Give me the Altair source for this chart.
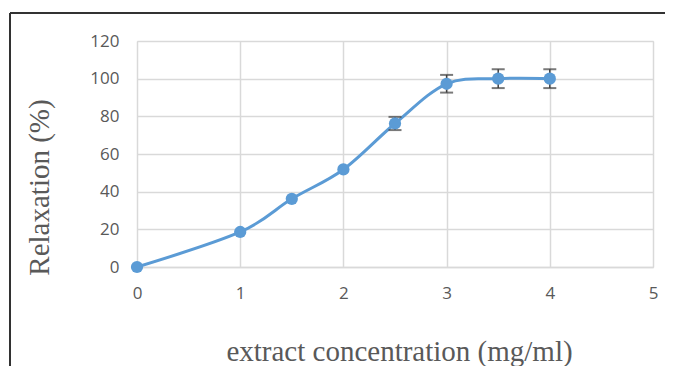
import altair as alt
import pandas as pd

conc = [0, 1, 1.5, 2, 2.5, 3, 3.5, 4]
relax = [0, 18.6, 36.2, 51.8, 76.2, 97.3, 100.0, 100.0]
err = [0, 0, 0, 0, 3.5, 4.7, 5.0, 5.0]
x_ticks = [0, 1, 2, 3, 4, 5]
y_ticks = [0, 20, 40, 60, 80, 100, 120]

df = pd.DataFrame({"conc": conc, "relax": relax, "err": err})
df["lo"] = df["relax"] - df["err"]
df["hi"] = df["relax"] + df["err"]
eb = df[df["err"] > 0]

W, H = 516, 226
BLUE = "#5b9bd5"
GREY = "#404040"
LBL = dict(labelFont="Open Sans", labelFontSize=17, labelColor="#595959",
           labelOverlap=False, labelFlush=False, labelPadding=18, tickSize=0, format="d")
TTL = dict(titleFont="Liberation Serif", titleFontSize=29, titleFontWeight="normal",
           titleColor="#595959", titleAlign="center")

x = alt.X("conc:Q", scale=alt.Scale(domain=[0, 5], nice=False),
          axis=alt.Axis(values=x_ticks, tickCount=len(x_ticks),
                        title="extract concentration (mg/ml)",
                        titleX=262, titleY=93, titleBaseline="alphabetic",
                        domainColor="#d9d9d9", domainWidth=1.5,
                        gridColor="#d9d9d9", gridWidth=1.5, **LBL, **TTL))
y = alt.Y("relax:Q", scale=alt.Scale(domain=[0, 120], nice=False),
          axis=alt.Axis(values=y_ticks, tickCount=len(y_ticks), title="Relaxation (%)",
                        titleX=-98, titleY=146, titleAngle=-90, titleBaseline="middle",
                        domain=False, gridColor="#d9d9d9", gridWidth=1.5, **LBL, **TTL))

base = alt.Chart(df)

rules = alt.Chart(eb).mark_rule(color=GREY, strokeWidth=1.5).encode(
    x="conc:Q", y="lo:Q", y2="hi:Q")
cap_lo = alt.Chart(eb).mark_tick(color=GREY, orient="horizontal", size=13, thickness=2).encode(
    x="conc:Q", y="lo:Q")
cap_hi = alt.Chart(eb).mark_tick(color=GREY, orient="horizontal", size=13, thickness=2).encode(
    x="conc:Q", y="hi:Q")

line = base.mark_line(color=BLUE, strokeWidth=3, interpolate="cardinal").encode(x=x, y=y)
pts = base.mark_point(color=BLUE, filled=True, opacity=1, size=150, shape="circle").encode(
    x="conc:Q", y="relax:Q")

frame_top = alt.Chart(df).mark_rule(color="#333333", strokeWidth=1.5, clip=False).encode(
    x=alt.value(-127), x2=alt.value(W + 30), y=alt.value(-28))
frame_left = alt.Chart(df).mark_rule(color="#333333", strokeWidth=1.5, clip=False).encode(
    x=alt.value(-127), y=alt.value(-28), y2=alt.value(H + 120))

chart = alt.layer(line, rules, cap_lo, cap_hi, pts, frame_top, frame_left).properties(
    width=W, height=H,
    autosize=alt.AutoSizeParams(type="none"),
    padding={"left": 129, "top": 33, "right": 12, "bottom": 99},
).configure_view(stroke="#d9d9d9", strokeWidth=1.5).configure(background="white")

chart.save("out.html", embed_options={"renderer": "svg", "actions": False})
